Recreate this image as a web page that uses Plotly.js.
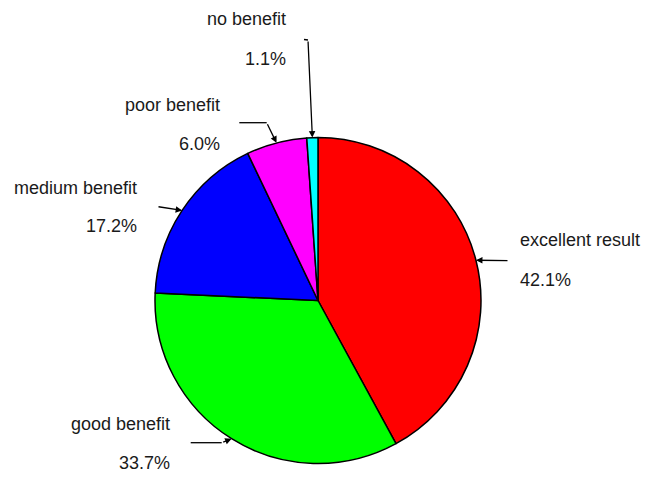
<!DOCTYPE html>
<html>
<head>
<meta charset="utf-8">
<script src="https://cdn.plot.ly/plotly-3.0.1.min.js"></script>
<style>html,body{margin:0;padding:0;background:#fff;}#chart{width:648px;height:477px;}</style>
</head>
<body>
<div id="chart"></div>
<script>
// ---- data ----
const categories = ["excellent result", "good benefit", "medium benefit", "poor benefit", "no benefit"];
const percents = [42.1, 33.7, 17.2, 6.0, 1.1];
const valueLabels = ["42.1%", "33.7%", "17.2%", "6.0%", "1.1%"];
const colors = ["#ff0000", "#00ff00", "#0000ff", "#ff00ff", "#00ffff"];

// ---- layout geometry (pixels) ----
const W = 648, H = 477;
const CX = 318, CY = 300.5, R = 163;
const px = x => x / W;
const py = y => 1 - y / H;

// label placement: side, text x, name middle y, value middle y, tail point, elbow point
const labelPos = [
  {side: "left",  x: 518, ny: 239.5, vy: 280,   tail: [509, 260.7], elbow: [509, 260.7]},
  {side: "right", x: 172, ny: 424,   vy: 462.5, tail: [190.7, 442.7], elbow: [221.7, 442.7]},
  {side: "right", x: 139, ny: 188,   vy: 226,   tail: [157, 206.5], elbow: [157, 206.5]},
  {side: "right", x: 222, ny: 104.5, vy: 143.5, tail: [239.3, 122.7], elbow: [266.7, 122.7]},
  {side: "right", x: 288, ny: 19.5,  vy: 59,    tail: [304, 39.5], elbow: [308, 40]}
];

const total = percents.reduce((a, b) => a + b, 0);
const annotations = [];
const shapes = [];
const font = {family: "Arial, 'Liberation Sans', sans-serif", size: 18, color: "#1a1a1a"};
let cum = 0;
percents.forEach((v, i) => {
  const mid = (cum + v / 2) / total * 2 * Math.PI;
  cum += v;
  const tip = [CX + R * Math.sin(mid), CY - R * Math.cos(mid)];
  const L = labelPos[i];
  const anchor = L.side === "left" ? "left" : "right";
  annotations.push({xref: "paper", yref: "paper", x: px(L.x), y: py(L.ny), text: categories[i],
    showarrow: false, xanchor: anchor, yanchor: "middle", font: font});
  annotations.push({xref: "paper", yref: "paper", x: px(L.x), y: py(L.vy), text: valueLabels[i],
    showarrow: false, xanchor: anchor, yanchor: "middle", font: font});
  if (L.tail[0] !== L.elbow[0] || L.tail[1] !== L.elbow[1]) {
    shapes.push({type: "line", xref: "paper", yref: "paper",
      x0: px(L.tail[0]), y0: py(L.tail[1]), x1: px(L.elbow[0]), y1: py(L.elbow[1]),
      line: {color: "#000", width: 1.3}});
  }
  annotations.push({xref: "paper", yref: "paper", x: px(tip[0]), y: py(tip[1]), text: "",
    showarrow: true, axref: "pixel", ayref: "pixel",
    ax: L.elbow[0] - tip[0], ay: L.elbow[1] - tip[1],
    arrowhead: 2, arrowsize: 1, arrowwidth: 1.3, arrowcolor: "#000", standoff: 0, startstandoff: 0});
});

const trace = {
  type: "pie",
  labels: categories,
  values: percents,
  sort: false,
  direction: "clockwise",
  rotation: 0,
  textinfo: "none",
  hoverinfo: "label+percent",
  marker: {colors: colors, line: {color: "#000", width: 1.5}},
  domain: {x: [px(CX - R), px(CX + R)], y: [py(CY + R), py(CY - R)]},
  showlegend: false
};

const layout = {
  width: W, height: H,
  margin: {l: 0, r: 0, t: 0, b: 0},
  paper_bgcolor: "#fff",
  showlegend: false,
  annotations: annotations,
  shapes: shapes
};

Plotly.newPlot("chart", [trace], layout, {displayModeBar: false, staticPlot: true});
</script>
</body>
</html>
